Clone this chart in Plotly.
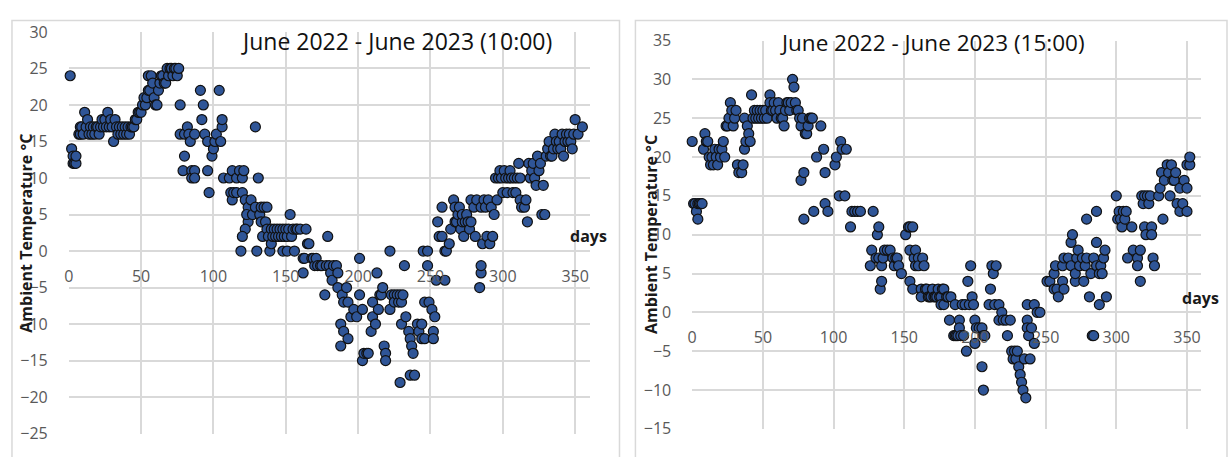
import plotly.graph_objects as go

# ---- daily ambient temperature, June 2022 - June 2023 ----
# readings at 10:00
day_10 = [1, 2, 3, 3, 4, 5, 5, 7, 8, 8, 9, 10, 11, 12, 13, 14, 15, 16, 17, 18,
          19, 20, 21, 22, 23, 24, 25, 26, 27, 28, 29, 30, 31, 32, 33, 34, 35, 36, 37, 38,
          39, 40, 41, 42, 43, 44, 45, 46, 47, 48, 49, 50, 51, 52, 53, 54, 55, 55, 56, 57,
          58, 59, 60, 61, 62, 63, 64, 65, 66, 67, 68, 69, 70, 71, 72, 73, 74, 75, 76,
          77, 77, 79, 80, 80, 82, 83, 84, 85, 85, 87, 87, 87, 91, 92, 93, 94, 96, 96, 97,
          99, 100, 101, 102, 104, 105, 106, 106, 107, 111, 112, 113, 113, 114, 116, 116,
          118, 120, 120, 121, 122, 124, 124, 123, 122, 120, 119, 126, 127, 129, 129, 130,
          131, 132, 133, 133, 134, 135, 136, 137, 137, 138, 139, 140, 140, 141, 142, 143,
          144, 145, 146, 147, 148, 148, 149, 150, 151, 151, 152, 153, 154, 155, 156, 157,
          158, 160, 162, 162, 163, 164, 165, 166, 168, 169, 170, 171, 172, 174, 175, 177,
          178, 179, 180, 181, 182, 183, 185, 186, 186, 188, 188, 189, 190, 190, 192, 193,
          193, 195, 197, 199, 201, 201, 203, 203, 204, 206, 207, 209, 210, 210, 212, 213,
          214, 215, 216, 217, 218, 219, 219, 222, 222, 223, 225, 225, 227, 228, 229, 229,
          230, 230, 231, 232, 233, 235, 236, 236, 237, 238, 239, 241, 242, 244, 244, 245,
          246, 246, 248, 248, 249, 251, 252, 252, 253, 254, 255, 256, 258, 258, 260, 260,
          261, 263, 264, 266, 267, 267, 268, 269, 270, 271, 272, 272, 273, 274, 275, 276,
          277, 278, 278, 280, 281, 282, 284, 285, 285, 285, 286, 287, 288, 289, 290, 291,
          292, 293, 294, 295, 296, 297, 298, 299, 300, 301, 302, 303, 304, 305, 306, 307,
          308, 309, 310, 311, 312, 312, 313, 315, 316, 317, 318, 319, 320, 321, 322, 323,
          324, 325, 326, 327, 328, 329, 330, 331, 332, 333, 334, 335, 336, 337, 338, 339,
          340, 341, 342, 343, 344, 345, 346, 347, 348, 349, 350, 352, 355]
temp_10 = [24, 14, 13, 12, 12, 12, 13, 16, 16, 17, 17, 16, 19, 17, 18, 16, 17, 16, 17, 16,
           17, 17, 16, 17, 18, 17, 18, 17, 19, 17, 18, 17, 15, 18, 17, 16, 17, 16, 17, 16,
           17, 16, 17, 16, 17, 17, 17, 18, 18, 19, 19, 19, 20, 21, 20, 21, 22, 24, 22, 24,
           23, 21, 20, 20, 22, 23, 24, 24, 23, 23, 25, 24, 25, 25, 24, 25, 25, 24, 25,
           20, 16, 11, 13, 16, 17, 16, 15, 11, 10, 16, 11, 10, 22, 18, 20, 16, 15, 11, 8,
           13, 14, 15, 16, 22, 15, 17, 18, 10, 10, 8, 7, 11, 8, 10, 8,
           11, 10, 8, 11, 7, 6, 4, 5, 3, 2, 0, 7, 5, 6, 17, 0,
           10, 5, 6, 4, 2, 6, 4, 6, 3, 2, 0, 1, 3, 2, 3, 2,
           3, 2, 3, 2, 0, 3, 2, 3, 0, 2, 3, 5, 2, 3, 0, 3,
           3, 3, -3, -1, -1, 3, 1, 1, -1, -1, -2, -1, -2, -2, -2, -6,
           -2, 2, -2, -3, -4, -2, -2, -3, -5, -10, -13, -6, -7, -11, -5, -7,
           -12, -9, -8, -9, -1, -6, -8, -15, -14, -14, -14, -11, -7, -9, -10, -3,
           -8, -6, -6, -5, -13, -14, -15, 0, -8, -6, -6, -7, -6, -7, -6, -18,
           -7, -10, -6, -2, -9, -11, -12, -17, -13, -14, -17, -10, -11, -10, -12, 0,
           -7, -12, 0, -2, -7, -8, -11, -12, -9, -4, 4, 2, 2, 6, -4, 0,
           0, 1, 3, 7, 6, 4, 4, 5, 6, 3, 4, 5, 2, 4, 5, 4,
           3, 7, 4, 6, 2, 7, -5, -3, -2, 6, 1, 7, 6, 2, 7, 1,
           6, 2, 5, 10, 7, 10, 11, 10, 8, 11, 10, 8, 10, 11, 10, 8,
           10, 8, 10, 12, 10, 7, 6, 6, 7, 4, 12, 10, 11, 12, 10, 9,
           13, 11, 12, 5, 9, 5, 13, 14, 15, 13, 13, 14, 16, 15, 14, 15,
           14, 16, 13, 15, 16, 15, 16, 15, 14, 16, 18, 16, 17]

# readings at 15:00
day_15 = [0, 1, 2, 3, 4, 4, 5, 6, 7, 8, 9, 10, 11, 12, 13, 14, 15, 16, 17, 18,
          19, 20, 21, 22, 23, 24, 25, 26, 27, 28, 29, 30, 31, 32, 33, 35, 36, 37, 37, 38,
          39, 40, 41, 42, 43, 44, 45, 46, 47, 48, 49, 50, 51, 52, 53, 55, 55, 56, 57, 58,
          59, 60, 61, 62, 63, 64, 65, 66, 67, 68, 69, 70, 71, 72, 73, 74, 75, 76, 77, 77,
          78, 79, 79, 80, 81, 82, 83, 84, 85, 86, 88, 91, 93, 94, 94, 96, 101, 102, 104, 105,
          106, 108, 109, 112, 113, 115, 117, 119, 126, 127, 128, 130, 131, 132, 132, 133, 134, 134,
          135, 136, 138, 140, 142, 143, 144, 145, 146, 148, 151, 153, 154, 154, 154, 156, 156,
          157, 158, 158, 160, 160, 162, 162, 163, 164, 165, 166, 167, 168, 169, 170, 171, 172,
          173, 174, 175, 176, 176, 177, 178, 178, 180, 181, 182, 183, 185, 186, 186, 187, 188,
          189, 189, 190, 191, 192, 193, 194, 195, 196, 197, 198, 199, 200, 200, 201, 203, 205,
          205, 206, 206, 207, 210, 211, 212, 213, 214, 215, 217, 217, 219, 220, 222, 223, 225,
          226, 227, 228, 229, 230, 231, 232, 233, 234, 235, 236, 237, 237, 237, 238, 239, 240,
          242, 242, 244, 246, 251, 253, 256, 256, 257, 258, 259, 262, 262, 263, 263, 266, 268,
          268, 269, 271, 271, 272, 273, 274, 276, 277, 278, 279, 279, 281, 282, 283, 284, 284,
          286, 286, 286, 288, 288, 289, 290, 291, 292, 293, 300, 301, 302, 303, 304, 305, 306,
          307, 308, 311, 312, 315, 315, 317, 317, 318, 319, 320, 320, 321, 322, 323, 324, 325,
          325, 326, 327, 330, 331, 332, 333, 334, 336, 337, 338, 339, 340, 341, 342, 343, 345,
          345, 347, 348, 350, 350, 350, 352, 352, 354]
temp_15 = [22, 14, 14, 13, 12, 14, 14, 14, 14, 21, 23, 22, 22, 20, 19, 20, 19, 21, 20, 19,
           21, 20, 21, 22, 20, 24, 24, 25, 27, 26, 24, 25, 26, 19, 18, 18, 19, 21, 25, 22,
           24, 23, 22, 28, 25, 26, 25, 26, 25, 26, 25, 26, 25, 26, 25, 28, 27, 26, 26, 27,
           26, 25, 27, 26, 25, 25, 24, 26, 27, 27, 26, 27, 30, 29, 27, 26, 26, 25, 24, 17,
           25, 18, 12, 23, 23, 24, 25, 25, 25, 13, 20, 24, 21, 18, 14, 13, 19, 20, 15, 22,
           21, 15, 21, 11, 13, 13, 13, 13, 6, 8, 13, 7, 10, 11, 7, 3, 4, 6,
           7, 8, 8, 8, 7, 6, 7, 7, 6, 5, 10, 11, 11, 8, 4, 3, 11,
           7, 8, 6, 7, 6, 3, 2, 7, 6, 3, 3, 2, 2, 2, 3, 2, 2,
           2, 3, 2, 2, 1, 3, 3, 1, 2, 2, -1, 2, -3, 1, -3, -3, -3,
           -1, -2, -3, 1, -3, 1, -5, 4, 1, 6, 2, 1, -1, -4, -2, -2, -7,
           -2, -3, -10, -3, 1, 3, 6, 5, 1, 6, 1, -1, 0, -1, -1, -3, -1,
           -5, -6, -5, -6, -5, -7, -8, -9, -10, -6, -11, 1, -1, -2, -3, -6, -2,
           1, -4, 0, 0, 4, 4, 5, 3, 6, 3, 2, 6, 4, 3, 7, 7, 6,
           9, 10, 4, 5, 7, 8, 6, 7, 4, 6, 7, 12, 2, 5, -3, 7, -3,
           9, 6, 13, 1, 5, 6, 5, 7, 8, 2, 15, 12, 13, 12, 11, 13, 12,
           13, 7, 11, 8, 7, 6, 8, 4, 15, 14, 15, 11, 10, 15, 14, 15, 11,
           10, 7, 6, 15, 16, 18, 12, 17, 19, 18, 15, 19, 17, 17, 18, 14, 16,
           13, 14, 17, 16, 13, 19, 19, 20]

x_ticks = [0, 50, 100, 150, 200, 250, 300, 350]
title_10 = "June 2022 - June 2023 (10:00)"
title_15 = "June 2022 - June 2023 (15:00)"
y_title = "Ambient Temperature °C"

W, H = 1228, 457
GRID = "#d9d9d9"
TICK_FONT = dict(family="Open Sans", size=16, color="#595959")
MARKER = dict(size=10, color="#2f5597", line=dict(color="#111111", width=1.2))


def fx(p):
    return p / W


def fy(p):
    return 1 - p / H


fig = go.Figure()
fig.add_trace(go.Scatter(x=day_10, y=temp_10, mode="markers", marker=MARKER,
                         cliponaxis=False, xaxis="x", yaxis="y", showlegend=False))
fig.add_trace(go.Scatter(x=day_15, y=temp_15, mode="markers", marker=MARKER,
                         cliponaxis=False, xaxis="x2", yaxis="y2", showlegend=False))

common_x = dict(range=[0, 360], tickvals=x_ticks, showgrid=True, gridcolor=GRID,
                gridwidth=2, zeroline=False, showline=False, ticks="",
                tickfont=TICK_FONT, ticklabelstandoff=14, anchor="free",
                fixedrange=True)
common_y = dict(dtick=5, showgrid=True, gridcolor=GRID, gridwidth=2,
                zeroline=True, zerolinecolor=GRID, zerolinewidth=2,
                showline=False, ticks="", tickfont=TICK_FONT,
                ticklabelstandoff=20, fixedrange=True)

fig.update_layout(
    width=W, height=H,
    margin=dict(l=0, r=0, t=0, b=0),
    paper_bgcolor="white", plot_bgcolor="white",
    xaxis=dict(common_x, domain=[fx(64), fx(587)], position=fy(252)),
    yaxis=dict(common_y, domain=[fy(444), fy(22)], range=[-25, 30], anchor="x",
               tick0=-25),
    xaxis2=dict(common_x, domain=[fx(690), fx(1201)], position=fy(316.6)),
    yaxis2=dict(common_y, domain=[fy(439), fy(31)], range=[-15, 35], anchor="x2",
                tick0=-15),
)

# chart-area frames
frame = dict(type="rect", xref="paper", yref="paper",
             line=dict(color=GRID, width=1.5), fillcolor="rgba(0,0,0,0)", layer="below")
fig.add_shape(frame, x0=fx(7), x1=fx(617), y0=-0.05, y1=fy(10))
fig.add_shape(frame, x0=fx(633), x1=fx(1227), y0=-0.05, y1=fy(10))

LABEL_FONT = dict(family="Open Sans", size=16, color="#1a1a1a", weight="bold")
ann = []
ann.append(dict(text=title_10, x=fx(393), y=fy(32),
                font=dict(family="Open Sans", size=23, color="#111111")))
ann.append(dict(text=title_15, x=fx(931), y=fy(33),
                font=dict(family="Open Sans", size=22.5, color="#111111")))
ann.append(dict(text="days", x=fx(586), y=fy(236), font=LABEL_FONT))
ann.append(dict(text="days", x=fx(1200), y=fy(301), font=LABEL_FONT))
ann.append(dict(text=y_title, x=fx(21), y=fy(233), font=LABEL_FONT, textangle=-90))
ann.append(dict(text=y_title, x=fx(648), y=fy(235), font=LABEL_FONT, textangle=-90))
for a in ann:
    a.update(xref="paper", yref="paper", showarrow=False,
             xanchor="center", yanchor="middle")
    fig.add_annotation(a)

fig.write_html("out.html")
